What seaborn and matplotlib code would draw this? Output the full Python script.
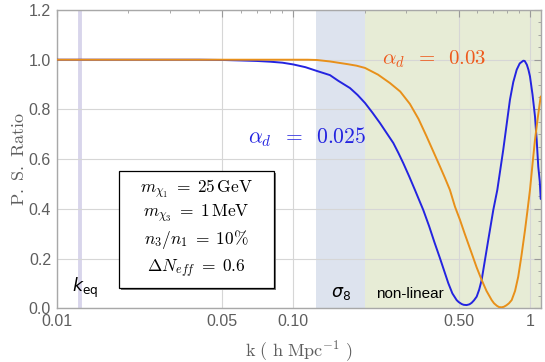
import numpy as np
import pandas as pd
import matplotlib
matplotlib.use("Agg")
import matplotlib.pyplot as plt
from matplotlib.patches import Rectangle
from matplotlib.ticker import FixedLocator, FixedFormatter, MultipleLocator
import seaborn as sns

# power spectrum ratio
k_blue = [0.01, 0.02, 0.03, 0.04, 0.05, 0.06, 0.07, 0.08, 0.09, 0.10, 0.1125, 0.1256,
          0.1429, 0.155, 0.1736, 0.187, 0.2009, 0.216, 0.2325, 0.248, 0.2646, 0.278,
          0.2915, 0.309, 0.3266, 0.34, 0.354, 0.375, 0.395, 0.4168, 0.4518, 0.47, 0.49,
          0.50, 0.515, 0.525, 0.54, 0.555, 0.567, 0.58, 0.5955, 0.61, 0.625, 0.6665,
          0.70, 0.7277, 0.771, 0.823, 0.85, 0.879, 0.905, 0.937, 0.95, 0.97, 0.985,
          1.0, 1.025, 1.05, 1.067, 1.084, 1.1, 1.11]
ratio_blue = [1.0, 1.0, 1.0, 1.0, 0.999, 0.997, 0.995, 0.992, 0.988, 0.981, 0.97, 0.955,
              0.938, 0.915, 0.886, 0.858, 0.826, 0.787, 0.745, 0.705, 0.665, 0.625,
              0.584, 0.53, 0.476, 0.436, 0.396, 0.33, 0.265, 0.201, 0.101, 0.06, 0.033,
              0.025, 0.017, 0.014, 0.013, 0.016, 0.022, 0.032, 0.047, 0.075, 0.114, 0.275,
              0.396, 0.476, 0.6375, 0.839, 0.91, 0.96, 0.985, 0.996, 0.995, 0.98, 0.96,
              0.933, 0.86, 0.772, 0.68, 0.57, 0.51, 0.44]

k_orange = [0.01, 0.02, 0.04, 0.06, 0.08, 0.10, 0.115, 0.1256, 0.1429, 0.17, 0.185,
            0.2009, 0.228, 0.2562, 0.283, 0.311, 0.338, 0.366, 0.39, 0.4168, 0.437,
            0.459, 0.482, 0.506, 0.53, 0.567, 0.595, 0.625, 0.655, 0.689, 0.705, 0.725,
            0.74, 0.759, 0.775, 0.795, 0.815, 0.837, 0.865, 0.892, 0.92, 0.953, 0.975,
            1.0, 1.025, 1.05, 1.08, 1.11]
ratio_orange = [1.0, 1.0, 1.0, 1.0, 1.0, 1.0, 1.0, 0.999, 0.993, 0.982, 0.976,
                0.967, 0.94, 0.906, 0.872, 0.822, 0.762, 0.691, 0.632, 0.570, 0.525,
                0.476, 0.409, 0.356, 0.30, 0.2215, 0.165, 0.114, 0.07, 0.033, 0.02, 0.01,
                0.005, 0.004, 0.006, 0.012, 0.02, 0.033, 0.07, 0.127, 0.21, 0.315, 0.39,
                0.476, 0.58, 0.678, 0.77, 0.852]

k_eq = 0.0125
sigma8_band = [0.125, 0.2]
nonlinear_band = [0.2, 1.11]

x_ticks = [0.01, 0.05, 0.10, 0.50, 1.0]
x_tick_labels = ["0.01", "0.05", "0.10", "0.50", "1"]
y_ticks = [0.0, 0.2, 0.4, 0.6, 0.8, 1.0, 1.2]

params = [r"$m_{\chi_1}\;=\;25\,\mathrm{GeV}$",
          r"$m_{\chi_3}\;=\;1\,\mathrm{MeV}$",
          r"$n_3/n_1\;=\;10\%$",
          r"$\Delta N_{eff}\;=\;0.6$"]

blue = "#2424e0"
orange = "#e8901a"
gray = "#5e5e5e"

sns.set_style("white")
plt.rcParams["font.family"] = ["Liberation Sans", "DejaVu Sans"]
plt.rcParams["mathtext.fontset"] = "cm"

fig = plt.figure(figsize=(5.45, 3.62), dpi=100)
ax = fig.add_axes([56.6 / 545, 1 - 308.3 / 362, 484.1 / 545, 298.3 / 362])

# shaded regions
ax.axvspan(sigma8_band[0], sigma8_band[1], color="#dde3ee", lw=0, zorder=0)
ax.axvspan(nonlinear_band[0], nonlinear_band[1], color="#e7ecd6", lw=0, zorder=0)
ax.axvline(k_eq, color="#d8d5eb", lw=2.8, zorder=0.2)

sns.lineplot(x=k_blue, y=ratio_blue, color=blue, lw=1.4, ax=ax, zorder=3)
sns.lineplot(x=k_orange, y=ratio_orange, color=orange, lw=1.4, ax=ax, zorder=3)

ax.set_xscale("log")
ax.set_xlim(0.01, 1.11)
ax.set_ylim(0, 1.2)

ax.xaxis.set_major_locator(FixedLocator(x_ticks))
ax.xaxis.set_major_formatter(FixedFormatter(x_tick_labels))
ax.xaxis.set_minor_locator(FixedLocator(
    [0.02, 0.03, 0.04, 0.06, 0.07, 0.08, 0.09, 0.2, 0.3, 0.4, 0.6, 0.7, 0.8, 0.9]))
ax.yaxis.set_major_locator(FixedLocator(y_ticks))
ax.yaxis.set_major_formatter(FixedFormatter(["%.1f" % v for v in y_ticks]))
ax.yaxis.set_minor_locator(MultipleLocator(0.05))

ax.tick_params(which="both", direction="in", top=True, right=True, color="#9a9a9a",
               labelcolor=gray, labelsize=11.5)
ax.tick_params(which="major", length=5, width=0.8, pad=4)
ax.tick_params(which="minor", length=2.5, width=0.6)
ax.grid(True, which="major", color="#d6d6d6", lw=0.8)
ax.set_axisbelow(True)
for s in ax.spines.values():
    s.set_color("#a8a8a8")
    s.set_linewidth(1.0)

ax.set_xlabel(r"$\mathrm{k\ (\ h\ Mpc^{-1}\ )}$", fontsize=13, color=gray)
ax.set_ylabel(r"$\mathrm{P.\ S.\ Ratio}$", fontsize=13, color=gray)
ax.xaxis.set_label_coords(0.5, -0.1)
ax.yaxis.set_label_coords(-0.06, 0.5)

# curve labels
ax.text(0.2366, 1.0, r"$\alpha_d\;\;=\;\;0.03$", color="#ee5a1c", fontsize=15,
        va="center", zorder=4)
ax.text(0.0644, 0.69, r"$\alpha_d\;\;=\;\;0.025$", color=blue, fontsize=15.5,
        va="center", zorder=4)

# region labels
ax.text(0.0116, 0.035, r"$k_{\mathrm{eq}}$", fontsize=12.5, color="black",
        ha="left", va="bottom", math_fontfamily="dejavusans")
ax.text(0.144, 0.025, r"$\sigma_8$", fontsize=12.5, color="black",
        ha="left", va="bottom", math_fontfamily="dejavusans")
ax.text(0.2236, 0.03, "non-linear", fontsize=11, color="black", ha="left", va="bottom")

# parameter box with shadow
bx0, by0, bw, bh = 119.3 / 545, 1 - 287.7 / 362, 154.7 / 545, 117 / 362
fig.patches.append(Rectangle((bx0 + 2 / 545, by0 - 2 / 362), bw, bh, transform=fig.transFigure,
                             facecolor="#777777", edgecolor="none", zorder=5))
fig.patches.append(Rectangle((bx0, by0), bw, bh, transform=fig.transFigure,
                             facecolor="white", edgecolor="black", lw=0.9, zorder=6))
for txt, yp in zip(params, [189, 214, 239.5, 269]):
    fig.text(bx0 + bw / 2, 1 - yp / 362, txt, ha="center", va="center", fontsize=12.5,
             color="black", zorder=7)

fig.savefig("out.png", dpi=100)
